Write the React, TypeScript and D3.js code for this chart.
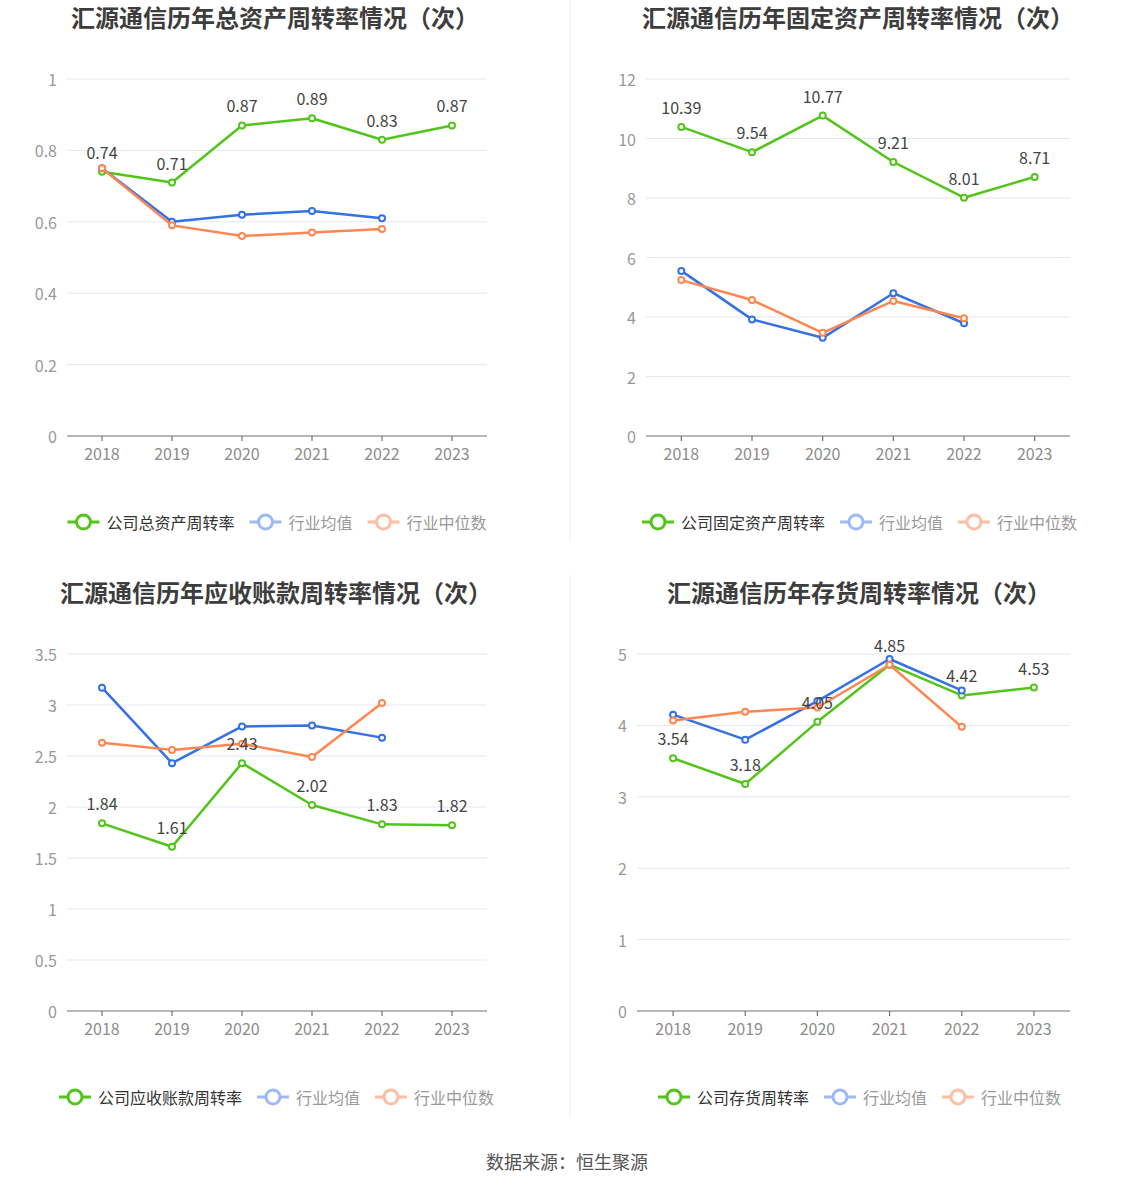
import React from "react";
import * as d3 from "d3";

const years = ["2018", "2019", "2020", "2021", "2022", "2023"];

const totalCompany = [0.74, 0.71, 0.87, 0.89, 0.83, 0.87];
const totalAvg = [0.75, 0.6, 0.62, 0.63, 0.61];
const totalMedian = [0.75, 0.59, 0.56, 0.57, 0.58];

const fixedCompany = [10.39, 9.54, 10.77, 9.21, 8.01, 8.71];
const fixedAvg = [5.55, 3.92, 3.3, 4.8, 3.79];
const fixedMedian = [5.24, 4.57, 3.47, 4.54, 3.96];

const recvCompany = [1.84, 1.61, 2.43, 2.02, 1.83, 1.82];
const recvAvg = [3.17, 2.43, 2.79, 2.8, 2.68];
const recvMedian = [2.63, 2.56, 2.62, 2.49, 3.02];

const invCompany = [3.54, 3.18, 4.05, 4.85, 4.42, 4.53];
const invAvg = [4.15, 3.8, 4.34, 4.93, 4.49];
const invMedian = [4.07, 4.19, 4.25, 4.85, 3.98];

const totalTicks = [0, 0.2, 0.4, 0.6, 0.8, 1];
const fixedTicks = [0, 2, 4, 6, 8, 10, 12];
const recvTicks = [0, 0.5, 1, 1.5, 2, 2.5, 3, 3.5];
const invTicks = [0, 1, 2, 3, 4, 5];

const GREEN = "#52c41a";
const BLUE = "#3470e6";
const ORANGE = "#ff8650";
const BLUE_L = "#9dbaf5";
const ORANGE_L = "#ffbda3";
const FONT = "'Noto Sans CJK SC', 'Noto Sans', sans-serif";

type PanelProps = {
  title: string;
  titleX: number;
  top: number;
  x0: number;
  x1: number;
  ticks: number[];
  company: number[];
  avg: number[];
  median: number[];
  legendLabel: string;
  legendCx: number;
};

function Panel(p: PanelProps) {
  const yBottom = p.top + 436;
  const yTop = p.top + 79;
  const x = d3.scaleBand<string>().domain(years).range([p.x0, p.x1]);
  const y = d3
    .scaleLinear()
    .domain([0, p.ticks[p.ticks.length - 1]])
    .range([yBottom, yTop]);
  const cx = (i: number) => (x(years[i]) as number) + x.bandwidth() / 2;
  const line = d3
    .line<number>()
    .x((_, i) => cx(i))
    .y((d) => y(d));

  const series = [
    { data: p.company, color: GREEN },
    { data: p.avg, color: BLUE },
    { data: p.median, color: ORANGE },
  ];

  const legendItems = [
    { label: p.legendLabel, icon: GREEN, text: "#333" },
    { label: "行业均值", icon: BLUE_L, text: "#999" },
    { label: "行业中位数", icon: ORANGE_L, text: "#999" },
  ];
  const iconW = 32;
  const iconGap = 7;
  const itemGap = 15;
  const fs = 16;
  const widths = legendItems.map((it) => iconW + iconGap + it.label.length * fs);
  const totalW = d3.sum(widths) + itemGap * (legendItems.length - 1);
  let lx = p.legendCx - totalW / 2;
  const legendY = p.top + 522;
  const legendPos = widths.map((w) => {
    const s = lx;
    lx += w + itemGap;
    return s;
  });

  return (
    <g>
      <text
        x={p.titleX}
        y={p.top + 16}
        textAnchor="middle"
        dominantBaseline="central"
        fontSize={24}
        fontWeight="bold"
        fill="#3d3d3d"
        fontFamily={FONT}
      >
        {p.title}
      </text>
      {p.ticks.map((t) => (
        <g key={t}>
          {t !== 0 && (
            <line x1={p.x0} x2={p.x1} y1={y(t)} y2={y(t)} stroke="#e3e7f1" strokeWidth={1} />
          )}
          <text
            x={p.x0 - 10}
            y={y(t)}
            textAnchor="end"
            dominantBaseline="central"
            fontSize={16}
            fill="#999"
            fontFamily={FONT}
          >
            {t}
          </text>
        </g>
      ))}
      <line x1={p.x0} x2={p.x1} y1={yBottom} y2={yBottom} stroke="#6e7079" strokeWidth={1.2} />
      {years.map((yr, i) => (
        <g key={yr}>
          <line x1={cx(i)} x2={cx(i)} y1={yBottom} y2={yBottom + 5} stroke="#6e7079" strokeWidth={1.2} />
          <text
            x={cx(i)}
            y={yBottom + 17}
            textAnchor="middle"
            dominantBaseline="central"
            fontSize={16}
            fill="#8c8c8c"
            fontFamily={FONT}
          >
            {yr}
          </text>
        </g>
      ))}
      {series.map((s, si) => (
        <g key={si}>
          <path d={line(s.data) as string} fill="none" stroke={s.color} strokeWidth={2.5} strokeLinejoin="round" />
          {s.data.map((d, i) => (
            <circle key={i} cx={cx(i)} cy={y(d)} r={3} fill="#fff" stroke={s.color} strokeWidth={2} />
          ))}
        </g>
      ))}
      {p.company.map((d, i) => (
        <text
          key={i}
          x={cx(i)}
          y={y(d) - 20}
          textAnchor="middle"
          dominantBaseline="central"
          fontSize={16}
          fill="#444"
          fontFamily={FONT}
        >
          {d.toFixed(2)}
        </text>
      ))}
      {legendItems.map((it, i) => {
        const sx = legendPos[i];
        return (
          <g key={i}>
            <line x1={sx} x2={sx + iconW} y1={legendY} y2={legendY} stroke={it.icon} strokeWidth={3} />
            <circle cx={sx + iconW / 2} cy={legendY} r={7} fill="#fff" stroke={it.icon} strokeWidth={3} />
            <text
              x={sx + iconW + iconGap}
              y={legendY}
              dominantBaseline="central"
              fontSize={fs}
              fill={it.text}
              fontFamily={FONT}
            >
              {it.label}
            </text>
          </g>
        );
      })}
    </g>
  );
}

export default function App() {
  return (
    <svg
      width={1134}
      height={1188}
      style={{ position: "absolute", left: 0, top: 0, background: "#fff" }}
    >
      <rect x={0} y={0} width={1134} height={1188} fill="#fff" />
      <line x1={570} x2={570} y1={0} y2={541} stroke="#eeeeee" strokeWidth={1} />
      <line x1={570} x2={570} y1={575} y2={1117} stroke="#eeeeee" strokeWidth={1} />
      <Panel
        title="汇源通信历年总资产周转率情况（次）"
        titleX={275}
        top={0}
        x0={67}
        x1={487}
        ticks={totalTicks}
        company={totalCompany}
        avg={totalAvg}
        median={totalMedian}
        legendLabel="公司总资产周转率"
        legendCx={277}
      />
      <Panel
        title="汇源通信历年固定资产周转率情况（次）"
        titleX={858}
        top={0}
        x0={646}
        x1={1070}
        ticks={fixedTicks}
        company={fixedCompany}
        avg={fixedAvg}
        median={fixedMedian}
        legendLabel="公司固定资产周转率"
        legendCx={859.5}
      />
      <Panel
        title="汇源通信历年应收账款周转率情况（次）"
        titleX={276}
        top={575}
        x0={67}
        x1={487}
        ticks={recvTicks}
        company={recvCompany}
        avg={recvAvg}
        median={recvMedian}
        legendLabel="公司应收账款周转率"
        legendCx={276.5}
      />
      <Panel
        title="汇源通信历年存货周转率情况（次）"
        titleX={859}
        top={575}
        x0={637}
        x1={1070}
        ticks={invTicks}
        company={invCompany}
        avg={invAvg}
        median={invMedian}
        legendLabel="公司存货周转率"
        legendCx={859.5}
      />
      <text
        x={567}
        y={1161}
        textAnchor="middle"
        dominantBaseline="central"
        fontSize={18}
        fill="#555"
        fontFamily={FONT}
      >
        数据来源：恒生聚源
      </text>
    </svg>
  );
}
